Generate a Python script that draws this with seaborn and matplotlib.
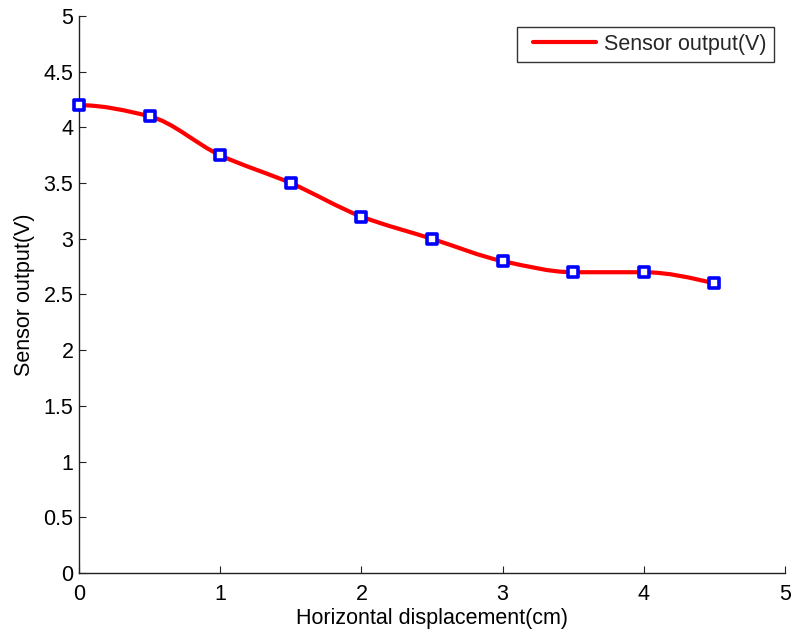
import numpy as np
import pandas as pd
import seaborn as sns
import matplotlib
matplotlib.use("Agg")
import matplotlib.pyplot as plt
from matplotlib.path import Path
from matplotlib.patches import PathPatch
from matplotlib.lines import Line2D
from matplotlib.legend_handler import HandlerLine2D

# Measurements
displacement_cm = [0.0, 0.5, 1.0, 1.5, 2.0, 2.5, 3.0, 3.5, 4.0, 4.5]
sensor_v = [4.2, 4.1, 3.75, 3.5, 3.2, 3.0, 2.8, 2.7, 2.7, 2.6]
x_ticks = [0, 1, 2, 3, 4, 5]
y_ticks = [0, 0.5, 1, 1.5, 2, 2.5, 3, 3.5, 4, 4.5, 5]
series_label = "Sensor output(V)"

sns.set_theme(style="white")
plt.rcParams["font.family"] = ["Liberation Sans", "DejaVu Sans"]

FS = 15.5
df = pd.DataFrame({"x": displacement_cm, "y": sensor_v})


def pchip_slopes(x, y):
    """Shape-preserving (PCHIP) derivatives at the knots."""
    x = np.asarray(x, float)
    y = np.asarray(y, float)
    h = np.diff(x)
    delta = np.diff(y) / h
    n = len(x)
    d = np.zeros(n)
    for k in range(1, n - 1):
        if delta[k - 1] * delta[k] > 0:
            w1 = 2 * h[k] + h[k - 1]
            w2 = h[k] + 2 * h[k - 1]
            d[k] = (w1 + w2) / (w1 / delta[k - 1] + w2 / delta[k])

    def end(h0, h1, d0, d1):
        s = ((2 * h0 + h1) * d0 - h0 * d1) / (h0 + h1)
        if np.sign(s) != np.sign(d0):
            return 0.0
        if np.sign(d0) != np.sign(d1) and abs(s) > abs(3 * d0):
            return 3 * d0
        return s

    d[0] = end(h[0], h[1], delta[0], delta[1])
    d[-1] = end(h[-1], h[-2], delta[-1], delta[-2])
    return d


def hermite_bezier_path(x, y, d):
    """Cubic Bezier path through the knots using Hermite tangents."""
    verts = [(x[0], y[0])]
    codes = [Path.MOVETO]
    for i in range(len(x) - 1):
        h = x[i + 1] - x[i]
        verts += [
            (x[i] + h / 3, y[i] + d[i] * h / 3),
            (x[i + 1] - h / 3, y[i + 1] - d[i + 1] * h / 3),
            (x[i + 1], y[i + 1]),
        ]
        codes += [Path.CURVE4] * 3
    return Path(verts, codes)


class IndentedLineHandler(HandlerLine2D):
    """Legend line sample that leaves a gap on its left side."""

    def __init__(self, indent=6.5, **kw):
        super().__init__(**kw)
        self.indent = indent

    def create_artists(self, legend, orig_handle, xdescent, ydescent,
                       width, height, fontsize, trans):
        return super().create_artists(legend, orig_handle,
                                      xdescent - self.indent, ydescent,
                                      width - self.indent, height,
                                      fontsize, trans)


fig = plt.figure(figsize=(7.93, 6.36), dpi=100)
ax = fig.add_axes([0.0996, 0.0991, 0.8903, 0.8757])

slopes = pchip_slopes(df["x"], df["y"])
curve = PathPatch(hermite_bezier_path(df["x"].values, df["y"].values, slopes),
                  facecolor="none", edgecolor="red", lw=3.0,
                  capstyle="round", joinstyle="round", zorder=2)
ax.add_patch(curve)

sns.scatterplot(data=df, x="x", y="y", ax=ax, marker="s", s=55,
                facecolor="white", edgecolor="blue", linewidth=2.6,
                zorder=3, legend=False, clip_on=False)

ax.set_xlim(0, 5)
ax.set_ylim(0, 5)
ax.set_xticks(x_ticks)
ax.set_yticks(y_ticks)
ax.set_xticklabels([f"{t:g}" for t in x_ticks])
ax.set_yticklabels([f"{t:g}" for t in y_ticks])

for side in ("top", "right"):
    ax.spines[side].set_visible(False)
for side in ("left", "bottom"):
    ax.spines[side].set_visible(True)
    ax.spines[side].set_color("#222222")
    ax.spines[side].set_linewidth(1.0)

ax.tick_params(direction="in", length=5, width=0.8, colors="#222222",
               labelcolor="black", labelsize=FS, left=True, bottom=True)
ax.tick_params(axis="x", pad=8)
ax.tick_params(axis="y", pad=4)

ax.set_xlabel("Horizontal displacement(cm)", fontsize=FS, color="black", labelpad=2)
ax.set_ylabel("Sensor output(V)", fontsize=FS, color="black", labelpad=6)

handle = Line2D([], [], color="red", lw=3.0)
leg = ax.legend([handle], [series_label], loc="upper right",
                bbox_to_anchor=(0.9845, 0.9805), fontsize=FS,
                frameon=True, fancybox=False, handlelength=3.35,
                borderpad=0.33, handletextpad=0.4, borderaxespad=0.0,
                handler_map={Line2D: IndentedLineHandler(indent=6.5)})
leg.get_frame().set_edgecolor("black")
leg.get_frame().set_linewidth(1.0)

ax.grid(False)
fig.savefig("out.png", dpi=100, facecolor="white")
